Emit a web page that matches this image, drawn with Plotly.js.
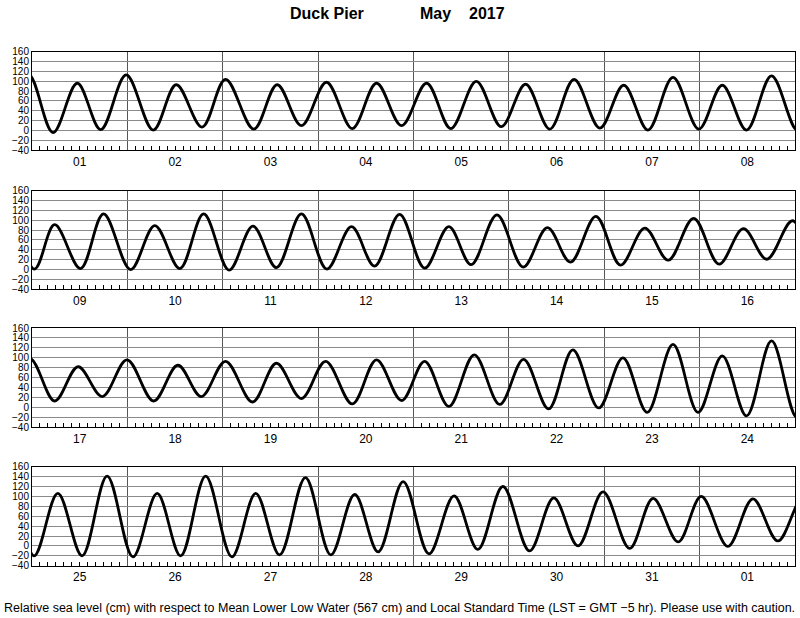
<!DOCTYPE html>
<html>
<head>
<meta charset="utf-8">
<script src="https://cdn.plot.ly/plotly-3.0.1.min.js"></script>
<style>html,body{margin:0;padding:0;background:#fff;}#chart{width:800px;height:618px;}</style>
</head>
<body>
<div id="chart"></div>
<script>
// Hours since 2017-05-01 00:00 LST of each high / low water
const tideHours = [
  -7.4, -0.9, 5.3, 11.4, 17.3, 23.7, 30.5, 36.3, 42.8, 48.7, 55.8, 61.7, 67.8, 74.1, 80.6, 86.7, 93.0,
  99.3, 105.4, 111.8, 118.1, 124.2, 130.3, 136.4, 142.9, 148.9, 155.0, 161.3, 167.8, 173.7, 179.8, 186.1,
  192.6, 197.7, 204.2, 210.0, 216.8, 222.9, 229.2, 235.2, 241.6, 247.6, 253.5, 259.8, 266.2, 272.4, 278.2,
  284.5, 290.8, 296.9, 302.5, 309.0, 315.6, 321.7, 327.5, 333.9, 340.1, 346.2, 352.1, 358.5, 364.9, 371.0,
  376.9, 383.4, 389.7, 395.6, 401.7, 407.9, 414.6, 420.7, 426.6, 432.7, 439.5, 445.5, 451.8, 457.9, 464.6,
  470.7, 477.0, 482.8, 488.9, 495.3, 501.7, 507.7, 514.0, 520.1, 526.6, 532.7, 538.8, 545.3, 551.6, 557.7,
  563.8, 570.1, 576.5, 582.5, 588.6, 594.9, 601.4, 607.5, 613.4, 619.7, 626.3, 632.3, 638.3, 644.8, 651.2,
  657.2, 663.1, 669.4, 675.9, 682.2, 688.2, 694.5, 701.2, 707.3, 713.4, 719.7, 726.4, 732.3, 738.6, 744.4,
  751.1, 757.4, 763.7, 770.0, 776.3
];
// Water level (cm, relative to MLLW) at those times
const tideLevels = [
  4, 114, -4, 96, 2, 113, 1, 93, 7, 104, 3, 93, 10, 98, 4, 96, 10,
  96, 4, 100, 8, 94, 3, 104, 5, 92, 1, 108, 3, 92, 1, 111,
  1, 91, 2, 113, 0, 89, 2, 113, -1, 88, 4, 113, 1, 87, 7,
  112, 3, 87, 10, 111, 5, 85, 15, 108, 9, 84, 19, 104, 11, 83,
  21, 99, 13, 82, 22, 96, 13, 85, 22, 93, 11, 89, 18, 93, 7,
  96, 14, 93, 2, 106, 6, 97, -3, 116, -1, 100, -10, 127, -10, 104,
  -17, 134, -20, 106, -20, 141, -22, 106, -20, 141, -22, 106, -18, 138, -18,
  104, -12, 130, -16, 101, -7, 120, -10, 97, 0, 109, -5, 96, 8, 100,
  -1, 95, 10, 96, 2
];
// Each panel: first and last day shown
const panelStarts = ['2017-05-01', '2017-05-09', '2017-05-17', '2017-05-25'];
const panelEnds   = ['2017-05-09', '2017-05-17', '2017-05-25', '2017-06-02'];
const yTicks = [-40, -20, 0, 20, 40, 60, 80, 100, 120, 140, 160];

const titleParts = ['Duck Pier', 'May', '2017'];
const footerText = 'Relative sea level (cm) with respect to Mean Lower Low Water (567 cm) and Local Standard Time (LST = GMT \u22125 hr). Please use with caution.';

function pad(n){ return (n < 10 ? '0' : '') + n; }
function toDate(h){
  const d = new Date(Date.UTC(2017, 4, 1) + Math.round(h * 3600000));
  return d.getUTCFullYear() + '-' + pad(d.getUTCMonth() + 1) + '-' + pad(d.getUTCDate()) + ' ' +
         pad(d.getUTCHours()) + ':' + pad(d.getUTCMinutes()) + ':' + pad(d.getUTCSeconds());
}
const xDates = tideHours.map(toDate);

const domains = [[0.8064, 0.9967], [0.5380, 0.7284], [0.2716, 0.4633], [0.0044, 0.1956]];
const font = 'Liberation Sans, Arial, Helvetica, sans-serif';

const data = [];
const layout = {
  width: 800, height: 618,
  margin: {l: 32, r: 5, t: 50, b: 50},
  paper_bgcolor: '#fff', plot_bgcolor: '#fff',
  showlegend: false,
  font: {family: font, color: '#000', size: 10},
  annotations: [],
};

panelStarts.forEach((s, i) => {
  const n = i === 0 ? '' : String(i + 1);
  data.push({
    type: 'scatter', mode: 'lines',
    x: xDates, y: tideLevels,
    xaxis: 'x' + n, yaxis: 'y' + n,
    line: {color: '#000', width: 2.8, shape: 'spline', smoothing: 1},
    hoverinfo: 'skip'
  });
  layout['xaxis' + n] = {
    type: 'date',
    range: [s, panelEnds[i]],
    anchor: 'y' + n,
    tick0: s, dtick: 86400000,
    tickformat: '%d', ticklabelmode: 'period',
    ticks: '', showgrid: true, gridcolor: '#555', gridwidth: 1,
    showline: true, mirror: true, linecolor: '#000', linewidth: 1,
    zeroline: false, fixedrange: true,
    tickfont: {family: font, size: 12, color: '#000'},
    minor: {dtick: 7200000, tick0: s, ticks: 'inside', ticklen: 4, tickcolor: '#000', tickwidth: 1, showgrid: false}
  };
  layout['yaxis' + n] = {
    domain: domains[i],
    anchor: 'x' + n,
    range: [-40, 160],
    tickmode: 'array', tickvals: yTicks,
    ticks: '', showgrid: true, gridcolor: '#8a8a8a', gridwidth: 1,
    zeroline: false,
    showline: true, mirror: true, linecolor: '#000', linewidth: 1,
    fixedrange: true,
    tickfont: {family: font, size: 10, color: '#000'}
  };
});

const titleX = [0.335, 0.5056, 0.5697];
titleParts.forEach((t, i) => {
  layout.annotations.push({
    text: '<b>' + t + '</b>', xref: 'paper', yref: 'paper',
    x: titleX[i], y: 1.0714, xanchor: 'left', yanchor: 'middle',
    showarrow: false, font: {family: font, size: 16, color: '#000'}
  });
});
layout.annotations.push({
  text: footerText, xref: 'paper', yref: 'paper',
  x: 0.482, y: -0.0772, xanchor: 'center', yanchor: 'middle',
  showarrow: false, font: {family: font, size: 12.5, color: '#000'}
});

Plotly.newPlot('chart', data, layout, {displayModeBar: false, staticPlot: true});
</script>
</body>
</html>
